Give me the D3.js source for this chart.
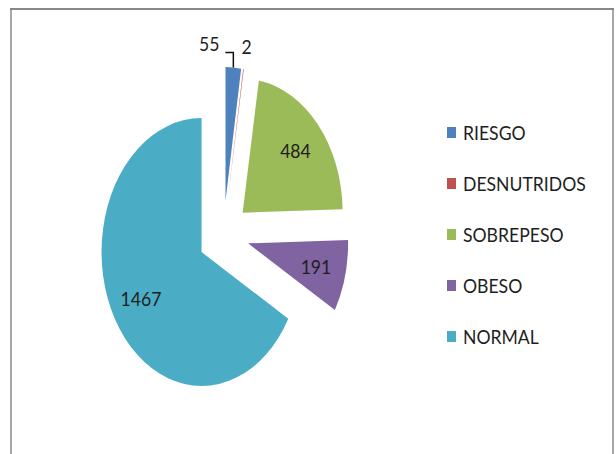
<!DOCTYPE html>
<html>
<head>
<meta charset="utf-8">
<script src="https://cdn.jsdelivr.net/npm/d3@7"></script>
<style>
  body { margin: 0; background: #fff; }
  text { font-family: Lato, "Liberation Sans", sans-serif; fill: #1e1e1e; font-size: 20px; }
</style>
</head>
<body>
<div id="pie-chart"></div>
<script>
// data
let categories = ["RIESGO", "DESNUTRIDOS", "SOBREPESO", "OBESO", "NORMAL"];
let values = [55, 2, 484, 191, 1467];
let colors = ["#4f81bd", "#c0504d", "#9bbb59", "#8064a2", "#4bacc6"];

let width = 616;
let height = 454;

let cx = 223.5;
let cy = 235;
let r = 134;          // vertical radius
let sx = 100 / 134;   // the pie is squeezed horizontally
let explode = 34;
let labelPos = 0.7;
let textSx = 0.88;    // text looks narrow too

let svg = d3.select('#pie-chart').append('svg')
    .attr('width', width)
    .attr('height', height)

// frame
svg.append('rect')
    .attr('x', 11)
    .attr('y', 9)
    .attr('width', 602)
    .attr('height', 470)
    .attr('fill', 'none')
    .attr('stroke', '#a8a8a8')
    .attr('stroke-width', 2)
svg.append('line')
    .attr('x1', 10).attr('x2', 614)
    .attr('y1', 9).attr('y2', 9)
    .attr('stroke', '#888')
    .attr('stroke-width', 2)

let pie = d3.pie().sort(null).value(function (d) { return d; })
let arcs = pie(values)

let arc = d3.arc()
    .innerRadius(0)
    .outerRadius(r)

function mid(d) { return (d.startAngle + d.endAngle) / 2; }

// position in page coords for a distance along the slice bisector
function along(d, dist) {
    let a = mid(d);
    return [cx + sx * (explode + dist) * Math.sin(a), cy - (explode + dist) * Math.cos(a)];
}

function place(x, y) {
    return 'translate(' + x + ',' + y + ') scale(' + textSx + ',1)';
}

let pieG = svg.append('g')
    .attr('transform', 'translate(' + cx + ',' + cy + ') scale(' + sx + ',1)')

pieG.selectAll('path').data(arcs)
    .enter().append('path')
    .attr('d', arc)
    .attr('fill', function (d, i) { return colors[i]; })
    .attr('transform', function (d) {
        let a = mid(d);
        return 'translate(' + (explode * Math.sin(a)) + ',' + (-explode * Math.cos(a)) + ')';
    })

// labels inside the big slices
svg.selectAll('.inlabel').data(arcs.filter(function (d) { return d.value > 100; }))
    .enter().append('text')
    .attr('class', 'inlabel')
    .attr('transform', function (d) {
        let p = along(d, r * labelPos);
        return place(p[0], p[1]);
    })
    .attr('dy', '0.36em')
    .attr('text-anchor', 'middle')
    .text(function (d) { return d.value; })

// small slices: labels outside, leader for the first one
let riesgo = arcs[0];
let p0 = along(riesgo, r);
svg.append('path')
    .attr('d', 'M' + p0[0] + ',' + p0[1] + 'V' + (p0[1] - 15) + 'H' + (p0[0] - 8))
    .attr('fill', 'none')
    .attr('stroke', '#111')
    .attr('stroke-width', 1.5)

svg.append('text')
    .attr('transform', place(p0[0] - 14, p0[1] - 17))
    .attr('text-anchor', 'end')
    .text(riesgo.value)

let desn = arcs[1];
let p1 = along(desn, r);
svg.append('text')
    .attr('transform', place(p1[0] - 2, p1[1] - 15))
    .text(desn.value)

// legend
let legendY = d3.scalePoint()
    .domain(categories)
    .range([133, 337])

let legend = svg.selectAll('.legend').data(categories)
    .enter().append('g')
    .attr('class', 'legend')
    .attr('transform', function (d) { return 'translate(447,' + legendY(d) + ')'; })

legend.append('rect')
    .attr('x', 0)
    .attr('y', -6)
    .attr('width', 9)
    .attr('height', 11)
    .attr('fill', function (d, i) { return colors[i]; })

legend.append('text')
    .attr('transform', place(16, 0))
    .attr('dy', '0.36em')
    .text(function (d) { return d; })
</script>
</body>
</html>
